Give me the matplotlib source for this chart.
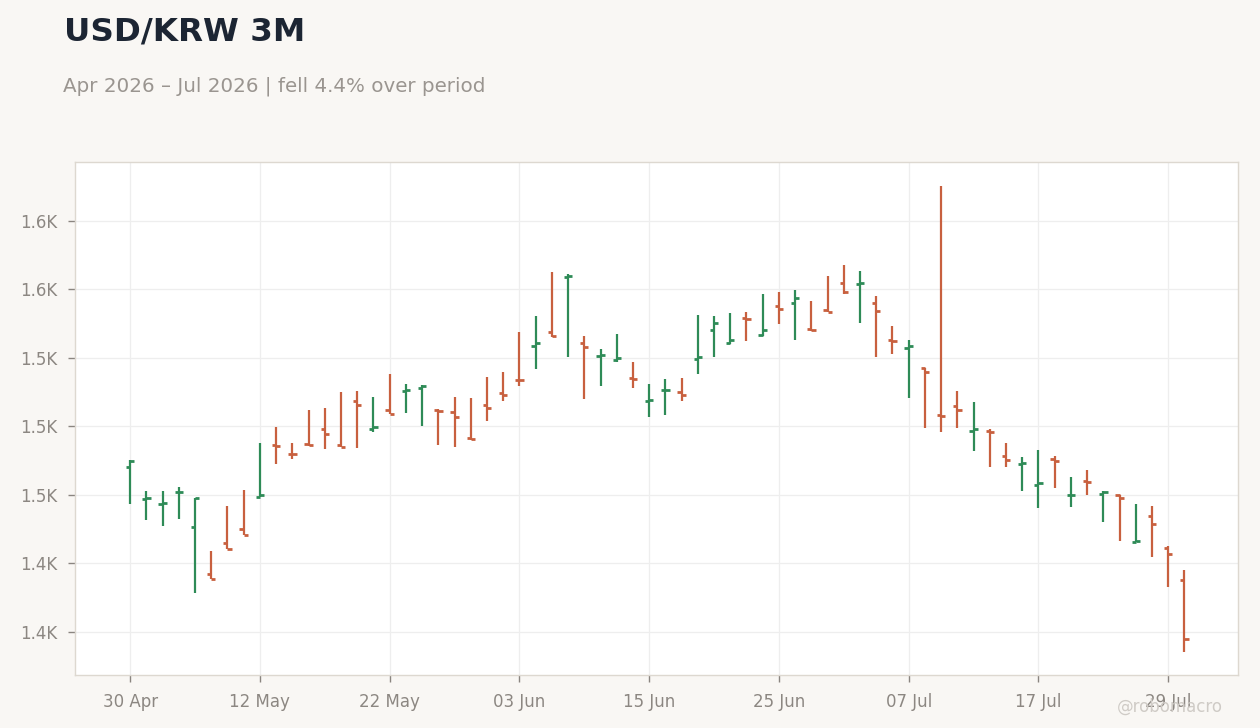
import numpy as np
import pandas as pd
from matplotlib import pyplot as plt
from matplotlib.ticker import FuncFormatter

plt.rcParams["font.family"] = "DejaVu Sans"

# OHLC data, one bar per business day
dates = pd.bdate_range("2026-04-30", periods=66)

opens = [1485.3, 1473.6, 1471.7, 1476.0, 1463.4, 1446.3, 1457.5, 1462.4, 1474.4, 1493.3,
         1490.1, 1493.6, 1499.2, 1493.4, 1509.4, 1499.2, 1506.1, 1512.9, 1514.2, 1505.9,
         1505.3, 1495.9, 1507.9, 1512.3, 1517.1, 1529.5, 1534.3, 1554.7, 1530.3, 1525.7,
         1524.4, 1517.8, 1509.4, 1513.3, 1512.7, 1524.6, 1535.3, 1530.3, 1539.7, 1533.4,
         1543.8, 1545.2, 1535.7, 1542.6, 1552.5, 1551.8, 1544.9, 1531.7, 1528.6, 1521.3,
         1504.2, 1507.3, 1498.2, 1498.2, 1489.1, 1486.3, 1478.8, 1488.2, 1474.8, 1480.1,
         1475.3, 1474.9, 1457.8, 1467.2, 1455.7, 1443.8]
highs = [1487.8, 1476.4, 1476.4, 1477.8, 1474.0, 1454.6, 1471.0, 1476.8, 1494.0, 1499.8,
         1494.0, 1506.1, 1506.8, 1512.7, 1513.1, 1510.8, 1519.1, 1515.5, 1515.0, 1506.3,
         1510.8, 1510.4, 1518.1, 1519.9, 1534.5, 1540.3, 1556.3, 1555.5, 1533.0, 1528.3,
         1533.8, 1523.6, 1515.5, 1517.3, 1517.7, 1540.7, 1540.3, 1541.4, 1541.8, 1548.4,
         1549.1, 1549.8, 1545.8, 1554.9, 1558.9, 1556.8, 1547.6, 1536.6, 1531.4, 1521.3,
         1587.8, 1512.9, 1508.9, 1498.9, 1494.0, 1488.8, 1491.4, 1489.2, 1481.5, 1484.1,
         1476.6, 1474.9, 1471.8, 1470.9, 1456.3, 1447.6]
lows = [1471.6, 1466.0, 1463.8, 1466.4, 1439.4, 1444.3, 1455.1, 1460.5, 1474.4, 1486.2,
        1488.0, 1493.0, 1491.9, 1492.6, 1492.3, 1497.8, 1504.6, 1504.9, 1500.3, 1493.3,
        1492.6, 1495.1, 1502.1, 1509.4, 1514.9, 1521.1, 1532.6, 1525.5, 1509.9, 1514.9,
        1523.4, 1514.2, 1503.3, 1504.3, 1509.4, 1519.3, 1525.5, 1530.0, 1531.3, 1533.1,
        1537.5, 1531.7, 1535.0, 1541.8, 1548.5, 1537.6, 1525.4, 1526.3, 1510.2, 1499.3,
        1497.8, 1499.3, 1491.2, 1485.3, 1485.1, 1476.6, 1470.1, 1477.4, 1470.7, 1475.1,
        1465.3, 1458.3, 1457.8, 1452.4, 1441.5, 1417.8]
closes = [1487.5, 1474.0, 1471.9, 1476.2, 1474.0, 1444.3, 1455.1, 1460.5, 1474.8, 1493.0,
          1489.9, 1493.3, 1497.3, 1492.6, 1507.8, 1499.9, 1504.6, 1513.2, 1514.9, 1505.8,
          1503.3, 1495.4, 1506.8, 1511.5, 1516.8, 1530.3, 1532.9, 1554.9, 1529.0, 1525.9,
          1525.1, 1517.3, 1509.7, 1513.4, 1511.3, 1525.4, 1537.8, 1531.6, 1539.2, 1535.2,
          1542.9, 1546.8, 1535.2, 1541.8, 1548.9, 1552.2, 1542.3, 1531.3, 1529.3, 1519.9,
          1503.7, 1506.1, 1498.9, 1497.8, 1487.9, 1486.5, 1479.2, 1487.5, 1475.0, 1479.8,
          1476.2, 1473.9, 1458.1, 1464.4, 1453.3, 1422.6]

yticks = [1425, 1450, 1475, 1500, 1525, 1550, 1575]

up_color = "#2e8b57"
down_color = "#c8603f"
grey = "#8c8782"

opens = np.array(opens)
closes = np.array(closes)
x = np.arange(len(dates))
colors = [up_color if c >= o else down_color for o, c in zip(opens, closes)]

fig = plt.figure(figsize=(12.6, 7.28), dpi=100, facecolor="#f9f7f4")
ax = fig.add_axes([0.0595, 0.0728, 0.923, 0.7047])
ax.set_facecolor("white")

tick_w = 0.26
ax.vlines(x, lows, highs, colors=colors, linewidth=1.6, zorder=3)
ax.hlines(opens, x - tick_w, x, colors=colors, linewidth=2.0, zorder=3)
ax.hlines(closes, x, x + tick_w, colors=colors, linewidth=2.0, zorder=3)

ax.set_xlim(-3.4, 68.3)
ax.set_ylim(1409.3, 1596.5)

tick_pos = x[::8]
ax.set_xticks(tick_pos)
ax.set_xticklabels([dates[i].strftime("%d %b") for i in tick_pos])
ax.set_yticks(yticks)
ax.yaxis.set_major_formatter(FuncFormatter(lambda v, p: f"{v / 1000:.1f}K"))

ax.grid(True, color="#eeeeee", linewidth=0.9, zorder=0)
ax.set_axisbelow(True)
for s in ax.spines.values():
    s.set_color("#ddd8d0")
    s.set_linewidth(1.0)
ax.tick_params(axis="both", colors="#8a8580", labelcolor=grey, labelsize=12,
               length=5, width=1, pad=8)

fig.text(0.0508, 0.945, "USD/KRW 3M", fontsize=23.4, fontweight="bold",
         color="#1c2533", va="baseline")
fig.text(0.0500, 0.874, "Apr 2026 \u2013 Jul 2026 | fell 4.4% over period",
         fontsize=14.3, color="#9a9590", va="baseline")
fig.text(0.9705, 0.022, "@robomacro", fontsize=12, color="#cfcbc6",
         ha="right", va="baseline")

plt.savefig("out.png", dpi=100, facecolor=fig.get_facecolor())
